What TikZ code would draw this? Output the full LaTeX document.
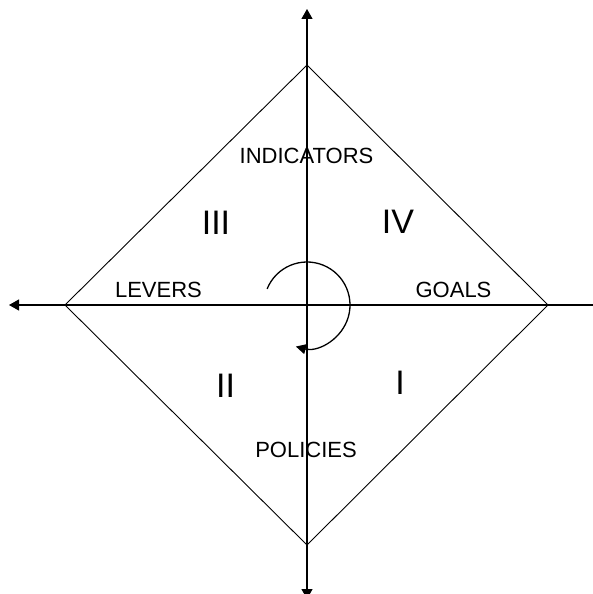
\documentclass[tikz,border=0pt]{standalone}
\usepackage{fontspec}
\setmainfont{Liberation Sans}
\usetikzlibrary{arrows.meta}
\begin{document}
\begin{tikzpicture}[x=1pt,y=-1pt,
  axis/.style={line width=1.2pt,-{Triangle[width=11pt,length=10pt]}},
  edge/.style={line width=0.9pt},
  lbl/.style={font=\fontsize{22}{24}\selectfont,inner sep=0pt},
  num/.style={font=\fontsize{34}{36}\selectfont,inner sep=0pt}]
\useasboundingbox (0,0) rectangle (592,594);
\coordinate (c) at (307,305);
\coordinate (top) at (307,65);
\coordinate (bot) at (307,545);
\coordinate (lft) at (65,305);
\coordinate (rgt) at (548,305);
\coordinate (ytop) at (307,9);
\coordinate (ybot) at (307,599);
\coordinate (xl) at (9,305);
\coordinate (xr) at (608,305);
\draw[edge] (top) -- (rgt) -- (bot) -- (lft) -- cycle;
\draw[axis] (c) -- (ytop);
\draw[axis] (c) -- (ybot);
\draw[axis] (c) -- (xl);
\draw[axis] (c) -- (xr);
\draw[line width=1.3pt,-{Triangle[width=10pt,length=10pt]}]
  ([shift={(-158:43)}]c) arc[start angle=-158,end angle=105,radius=43];
\node[lbl] (ind) at (306.5,155.5) {INDICATORS};
\node[num] (q3) at (216,222.5) {III};
\node[num] (q4) at (398,221.5) {IV};
\node[lbl] (lev) at (158.5,289.5) {LEVERS};
\node[lbl] (goa) at (453.5,289.5) {GOALS};
\node[num] (q2) at (225.5,385.5) {II};
\node[num] (q1) at (400,382.5) {I};
\node[lbl] (pol) at (306,450) {POLICIES};
\end{tikzpicture}
\end{document}
